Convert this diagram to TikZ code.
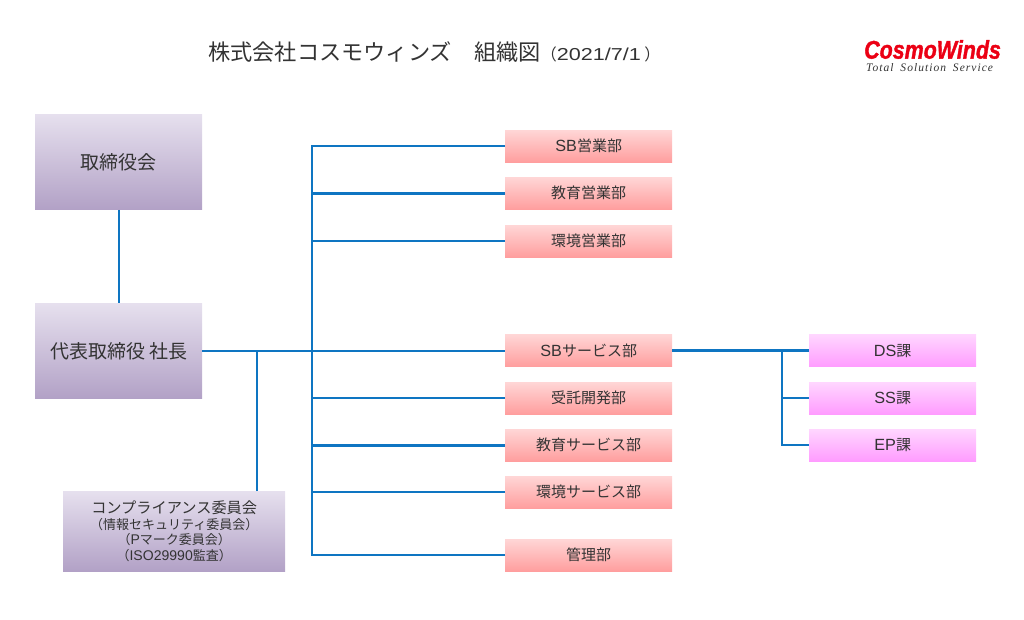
\documentclass[tikz,border=0pt]{standalone}
\usepackage{fontspec}
\setmainfont{Noto Sans CJK JP}
\newfontfamily\lat{Liberation Sans}[Scale=1.08]
\newfontfamily\logofont{Liberation Sans}[BoldItalicFeatures={FakeBold=1.6}]
\newfontfamily\tagfont{Liberation Serif}[ItalicFeatures={LetterSpace=9}]
\newcommand{\la}[1]{{\lat #1}}
\definecolor{linkblue}{HTML}{0E75C2}
\definecolor{txt}{HTML}{333333}
\definecolor{logored}{HTML}{EB0014}
\definecolor{purpleTop}{HTML}{E6E0EE}
\definecolor{purpleBot}{HTML}{B2A1C6}
\definecolor{redTop}{HTML}{FFD6D6}
\definecolor{redBot}{HTML}{FF9E9E}
\definecolor{pinkTop}{HTML}{FFD6FF}
\definecolor{pinkBot}{HTML}{FF9CFF}
\tikzset{
  box/.style={minimum height=#1, inner sep=0pt, align=center, text=txt, anchor=north west},
  board/.style={box=95.5pt, minimum width=167pt, top color=purpleTop, bottom color=purpleBot, font=\fontsize{19}{22}\selectfont},
  committee/.style={box=80pt, minimum width=222pt, top color=purpleTop, bottom color=purpleBot, font=\fontsize{15.2}{16}\selectfont},
  dept/.style={box=32pt, minimum width=167pt, top color=redTop, bottom color=redBot, font=\fontsize{15}{17}\selectfont},
  sect/.style={box=32pt, minimum width=167pt, top color=pinkTop, bottom color=pinkBot, font=\fontsize{15}{17}\selectfont},
  link/.style={draw=linkblue, line width=2pt},
  thick link/.style={draw=linkblue, line width=2.7pt},
}
\newcommand{\subl}[1]{{\fontsize{13}{16}\selectfont #1}}
\begin{document}
\begin{tikzpicture}[x=1pt,y=-1pt]
\useasboundingbox (0,0) rectangle (1024,620);
\node[board] (bd) at (35,114) {取締役会};
\node[board] (ceo) at (35,303) {代表取締役 社長};
\node[committee] (comp) at (63,491) {コンプライアンス委員会\\[-0.4pt]\subl{（情報セキュリティ委員会）}\\[-0.4pt]\subl{（\la{P}マーク委員会）}\\[-0.4pt]\subl{（\la{ISO29990}監査）}};
\node[dept] (d1) at (505,130) {\la{SB}営業部};
\node[dept] (d2) at (505,177) {教育営業部};
\node[dept] (d3) at (505,225) {環境営業部};
\node[dept] (d4) at (505,334.5) {\la{SB}サービス部};
\node[dept] (d5) at (505,382) {受託開発部};
\node[dept] (d6) at (505,429) {教育サービス部};
\node[dept] (d7) at (505,476) {環境サービス部};
\node[dept] (d8) at (505,539) {管理部};
\node[sect] (s1) at (809,334.5) {\la{DS}課};
\node[sect] (s2) at (809,382) {\la{SS}課};
\node[sect] (s3) at (809,429) {\la{EP}課};
\coordinate (tr) at (312,146);
\coordinate (cj) at (257,0);
\coordinate (sj) at (782,0);
\draw[link] (bd.south) -- (ceo.north);
\draw[thick link] (ceo.east) -- (ceo.east -| d4.west);
\draw[thick link] (comp.north -| cj) -- (ceo.east -| cj);
\draw[link,line join=miter] (d1.west) -- (d1.west -| tr) -- (d8.west -| tr) -- (d8.west);
\draw[thick link] (d2.west) -- (d2.west -| tr);
\draw[link] (d3.west) -- (d3.west -| tr);
\draw[link] (d5.west) -- (d5.west -| tr);
\draw[thick link] (d6.west) -- (d6.west -| tr);
\draw[link] (d7.west) -- (d7.west -| tr);
\draw[thick link] (d4.east) -- (d4.east -| s1.west);
\draw[link] (s1.west -| sj) -- (s3.west -| sj) -- (s3.west);
\draw[link] (s2.west) -- (s2.west -| sj);
\node[anchor=west,inner sep=0pt,text=txt,font=\fontsize{22.2}{24}\selectfont] (title) at (208,52.5) {株式会社コスモウィンズ\hspace{1em}組織図{\fontsize{16}{20}\selectfont （\scalebox{1.25}[1]{\la{2021/7/1}} ）}};
\node[anchor=west,inner sep=0pt,text=logored,font=\logofont\bfseries\itshape\fontsize{25.5}{28}\selectfont] (logo) at (864,49.5) {\scalebox{.84}[1]{CosmoWinds}};
\node[anchor=west,inner sep=0pt,text=txt,font=\tagfont\itshape\fontsize{11.5}{13}\selectfont] (tag) at (866,67.5) {Total\hspace{.6em}Solution\hspace{.6em}Service};
\end{tikzpicture}
\end{document}
